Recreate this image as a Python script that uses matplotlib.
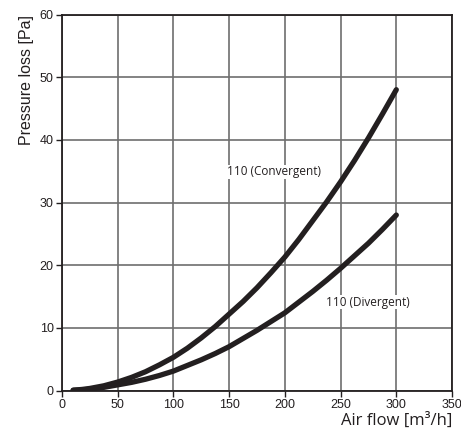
import matplotlib
matplotlib.use("Agg")
import matplotlib.pyplot as plt

airflow = [10, 18, 25, 37.5, 50, 62.5, 75, 87.5, 100, 112.5, 125, 137.5, 150, 162.5, 175,
           187.5, 200, 212.5, 225, 237.5, 250, 262.5, 275, 287.5, 300]
convergent = [0.05, 0.17, 0.33, 0.75, 1.35, 2.1, 3.0, 4.1, 5.3, 6.75, 8.4, 10.2, 12.2,
              14.2, 16.4, 18.8, 21.3, 24.1, 27.1, 30.1, 33.3, 36.7, 40.3, 44.1, 48.0]
divergent = [0.03, 0.1, 0.2, 0.5, 0.9, 1.3, 1.8, 2.4, 3.1, 4.0, 4.9, 5.9, 7.0,
             8.3, 9.6, 11.0, 12.4, 14.1, 15.8, 17.6, 19.5, 21.5, 23.5, 25.7, 28.0]
x_ticks = [0, 50, 100, 150, 200, 250, 300, 350]
y_ticks = [0, 10, 20, 30, 40, 50, 60]

plt.rcParams['font.family'] = ['Liberation Sans', 'DejaVu Sans']

fig = plt.figure(figsize=(4.61, 4.37), dpi=100)
ax = fig.add_axes([0.1345, 0.1064, 0.846, 0.8604])

ax.grid(True, color='#6e6e6e', linewidth=1.2)
ax.set_axisbelow(True)

line_color = '#231f20'
ax.plot(airflow, convergent, color=line_color, linewidth=3.8, solid_capstyle='round',
        solid_joinstyle='round')
ax.plot(airflow, divergent, color=line_color, linewidth=3.8, solid_capstyle='round',
        solid_joinstyle='round')

ax.set_xlim(0, 350)
ax.set_ylim(0, 60)
ax.set_xticks(x_ticks)
ax.set_yticks(y_ticks)
ax.tick_params(direction='out', length=4, width=1, color='#231f20',
               labelsize=9, labelcolor='#231f20', pad=2)

for s in ax.spines.values():
    s.set_color('#231f20')
    s.set_linewidth(1.3)

ax.text(148, 34.9, '110 (Convergent)', fontsize=8.5, color='#231f20', va='center', ha='left',
        family=['Open Sans', 'DejaVu Sans'],
        bbox=dict(facecolor='white', edgecolor='none', pad=0.5))
ax.text(236.5, 14.1, '110 (Divergent)', fontsize=8.5, color='#231f20', va='center', ha='left',
        family=['Open Sans', 'DejaVu Sans'],
        bbox=dict(facecolor='white', edgecolor='none', pad=0.5))

ax.set_xlabel('Air flow [m³/h]', fontsize=12, color='#231f20', loc='right', labelpad=1,
              family=['Open Sans', 'DejaVu Sans'])
ax.set_ylabel('Pressure loss [Pa]', fontsize=11.5, color='#231f20', loc='top', labelpad=4)

fig.savefig('out.png', dpi=100)
